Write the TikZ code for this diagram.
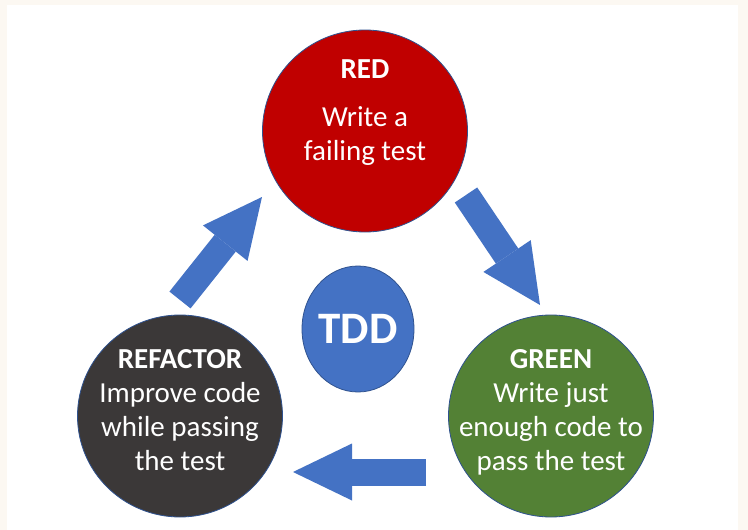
\documentclass[tikz,border=0pt]{standalone}
\usepackage{fontspec}
\setmainfont{Carlito}
\usetikzlibrary{arrows.meta,shapes.geometric}
\definecolor{cream}{HTML}{FCF8F2}
\definecolor{tddred}{HTML}{C00000}
\definecolor{tddgreen}{HTML}{538135}
\definecolor{tddgray}{HTML}{3B3838}
\definecolor{tddblue}{HTML}{4472C4}
\definecolor{rim}{HTML}{2F528F}
\begin{document}
\begin{tikzpicture}
    [
        x=1pt, y=-1pt,
        phase/.style={ellipse, draw=rim, line width=0.8pt, minimum width=205pt, minimum height=202pt, inner sep=0pt,},
        phasetext/.style={text=white, align=center, inner sep=0pt, font=\fontsize{29}{34}\selectfont,},
        flow/.style={tddblue, line width=27pt, -{Triangle[width=57pt,length=59pt,line width=0pt]},},
    ]

    % frame
    \useasboundingbox (0,0) rectangle (748,530);
    \fill [cream] (0,0) rectangle (748,530);
    \fill [white] (7,5) rectangle (738,530);

    % tdd cycle
    \node (red)      at (365,131) [phase, fill=tddred]   {};
    \node (green)    at (551,416) [phase, fill=tddgreen] {};
    \node (refactor) at (180,416) [phase, fill=tddgray]  {};
    \node (tdd)      at (358,329) [phase, fill=tddblue, minimum width=112pt, minimum height=126pt] {};

    \node (redtext)      at (365,113) [phasetext] {\textbf{RED}\\[14pt]Write a\\failing test};
    \node (greentext)    at (551,412) [phasetext] {\textbf{GREEN}\\Write just\\enough code to\\pass the test};
    \node (refactortext) at (180,410) [phasetext] {\textbf{REFACTOR}\\Improve code\\while passing\\the test};
    \node (tddtext)      at (358,329) [phasetext, font=\bfseries\fontsize{45}{45}\selectfont] {TDD};

    \coordinate (r2g-a) at (466,195);
    \coordinate (r2g-b) at (540,305);
    \coordinate (g2f-a) at (426,472);
    \coordinate (g2f-b) at (293,472);
    \coordinate (f2r-a) at (180,300);
    \coordinate (f2r-b) at (262,197);

    \draw [flow] (r2g-a) -- (r2g-b);
    \draw [flow] (g2f-a) -- (g2f-b);
    \draw [flow] (f2r-a) -- (f2r-b);

\end{tikzpicture}
\end{document}
